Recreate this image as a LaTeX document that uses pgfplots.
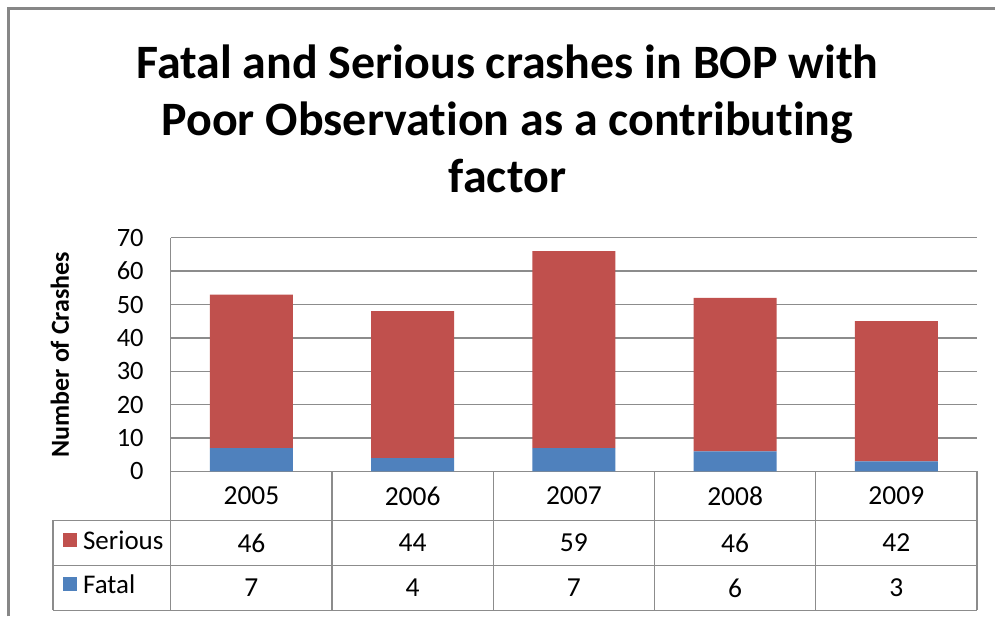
\documentclass[border=0pt]{standalone}
\usepackage{pgfplots}
\pgfplotsset{compat=1.18}
\usepackage{fontspec}
\setmainfont{Carlito}[Ligatures=NoCommon]
\definecolor{ser}{HTML}{C0504D}
\definecolor{fat}{HTML}{4F81BD}
\definecolor{grd}{HTML}{8C8C8C}
\definecolor{frm}{HTML}{878787}
\begin{document}
\begin{tikzpicture}[x=1pt,y=1pt]
\path[fill=white] (0,0) rectangle (996,617);
\draw[frm, line width=2.2pt] (8.5,0) -- (8.5,608.5) -- (996,608.5);
\node[align=center, font=\fontsize{48}{57}\selectfont\bfseries, inner sep=0pt] at (508,617-119) {Fatal and Serious crashes in BOP with\\Poor Observation as a contributing\\factor};
\begin{axis}[at={(171pt,145pt)}, anchor=south west, scale only axis,
  width=807pt, height=234pt,
  xmin=-0.5, xmax=4.5, ymin=0, ymax=70,
  ytick={0,10,...,70}, xtick=\empty,
  ymajorgrids, grid style={grd, line width=1.3pt},
  axis line style={draw=none},
  major tick length=0pt,
  /pgf/number format/assume math mode=true,
  yticklabel style={font=\fontsize{26.5}{30}\selectfont, anchor=east, inner sep=0pt, xshift=-27pt},
  ylabel={Number of Crashes},
  every axis y label/.style={at={(axis description cs:0,0.5)}, rotate=90, anchor=center, yshift=111pt, font=\fontsize{26}{30}\selectfont\bfseries},
  ybar stacked, bar width=83pt,
  clip=false]
\addplot[fill=fat, draw=none] coordinates {(0,7) (1,4) (2,7) (3,6) (4,3)};
\addplot[fill=ser, draw=none] coordinates {(0,46) (1,44) (2,59) (3,46) (4,42)};
\end{axis}
% axis line and data table
\draw[grd, line width=1.3pt] (171,617-238) -- (171,6);
\foreach \yy in {521,566,611} \draw[grd, line width=1.3pt] (53,617-\yy) -- (978,617-\yy);
\draw[grd, line width=1.3pt] (53,617-521) -- (53,617-611);
\foreach \k in {1,...,5} \draw[grd, line width=1.3pt] ({171+161.4*\k},145) -- ({171+161.4*\k},617-611);
\foreach \yr [count=\i from 0] in {2005,2006,2007,2008,2009}
  \node[font=\fontsize{27.5}{30}\selectfont] at ({171+161.4*(\i+0.5)},617-496.5) {\yr};
\foreach \v [count=\i from 0] in {46,44,59,46,42}
  \node[font=\fontsize{27.5}{30}\selectfont] at ({171+161.4*(\i+0.5)},617-543.5) {\v};
\foreach \v [count=\i from 0] in {7,4,7,6,3}
  \node[font=\fontsize{27.5}{30}\selectfont] at ({171+161.4*(\i+0.5)},617-588.5) {\v};
\fill[ser] (63,617-548) rectangle (77,617-534);
\fill[fat] (63,617-592) rectangle (77,617-578);
\node[font=\fontsize{27}{30}\selectfont, anchor=west, inner sep=0pt] at (83,617-541) {Serious};
\node[font=\fontsize{27}{30}\selectfont, anchor=west, inner sep=0pt] at (83,617-585) {Fatal};
\end{tikzpicture}
\end{document}
